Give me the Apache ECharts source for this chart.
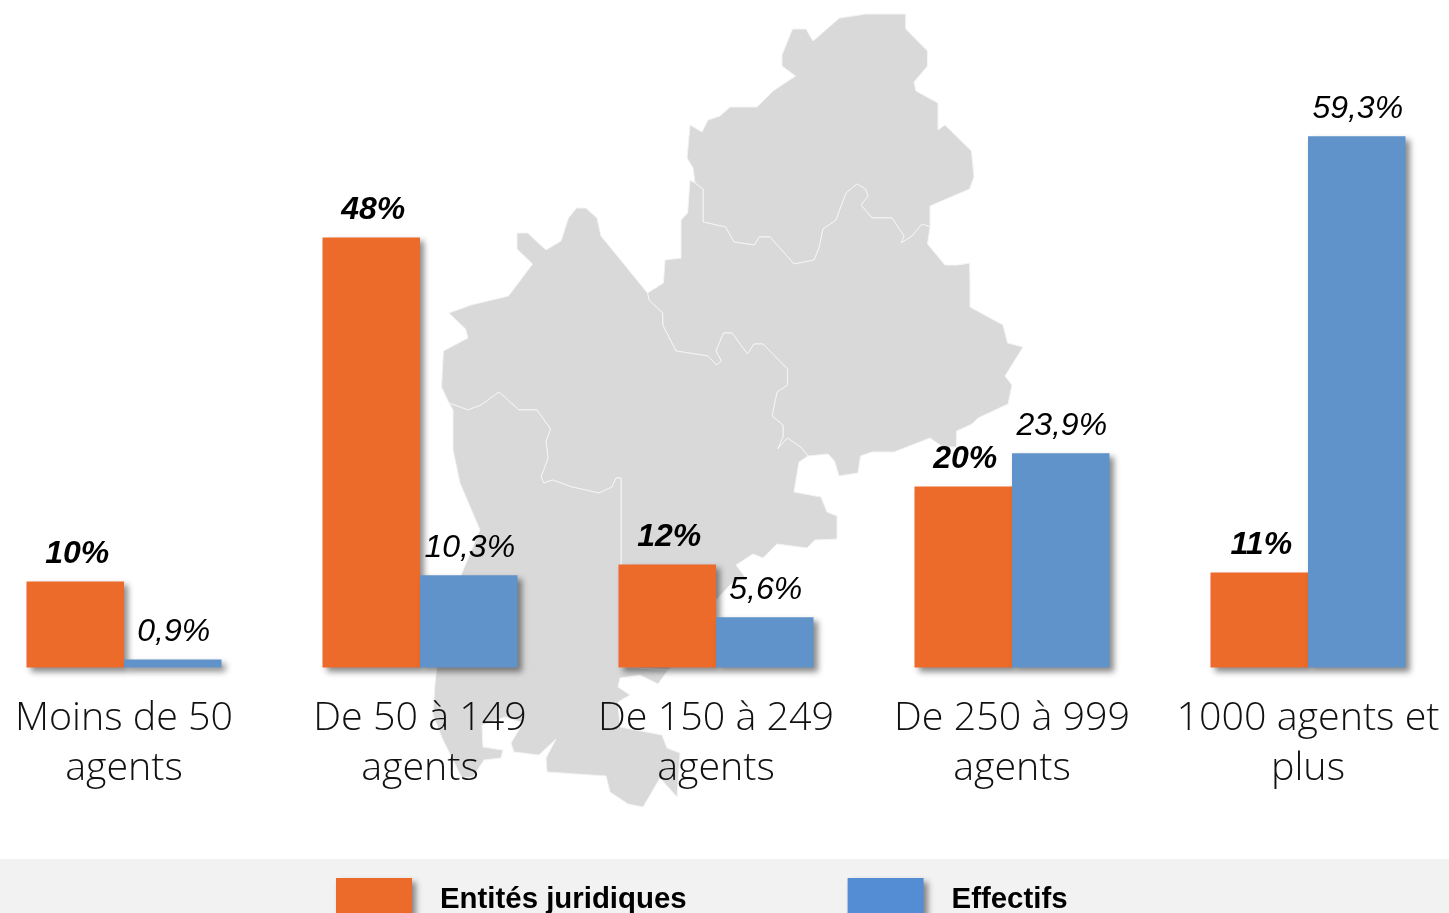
<!DOCTYPE html>
<html>
<head>
<meta charset="utf-8">
<style>html,body{margin:0;padding:0;background:#fff;overflow:hidden}#c{width:1449px;height:913px}</style>
<script src="https://cdn.jsdelivr.net/npm/echarts@6/dist/echarts.min.js"></script>
</head>
<body>
<div id="c"></div>
<script>
const categories = ['Moins de 50\nagents','De 50 à 149\nagents','De 150 à 249\nagents','De 250 à 999\nagents','1000 agents et\nplus'];
const seriesNames = ['Entités juridiques','Effectifs'];
const entites = [9.6,48,11.5,20.2,10.6];
const entitesLabels = ['10%','48%','12%','20%','11%'];
const effectifs = [0.9,10.3,5.6,23.9,59.3];
const effectifsLabels = ['0,9%','10,3%','5,6%','23,9%','59,3%'];

// Decorative background map (not data)
const borderNE = [[930,227],[922,224],[912,236],[901,243],[904,236],[892,218],[872,218],[861,205],[868,196],[865.5,189],[857,184],[846,193],[836,220],[823,229],[819,248],[814,260],[794,264],[770,237],[759,237],[754.5,245],[734,242],[725.5,227],[703,222],[703,189],[695,183]];
const borderEW = [[808,456],[800.5,447],[787.5,438],[777.5,449],[783,437],[783,425],[772,416],[777,392],[787.5,385],[787.5,369],[763,344],[754,344],[747.5,354],[732,333],[723.5,333],[716,351],[721.5,361],[716.5,365],[708,356],[676,351],[662.7,325],[662.7,313],[649,300],[647.5,293]];
const borderWS = [[449,403],[468,410],[481,405],[499,392],[519,410],[537,410],[550.5,429],[546,441],[548,458],[541,477],[543.7,483],[552.5,480],[572,487],[599,493],[612,487],[616,478],[621,478],[621,667]];
const outlineN = [[687,158],[690,125],[702,132],[708,120],[720,116],[730,107],[757,107],[773,91],[795.5,76],[782,66],[782,55],[792.5,29],[806,29],[813,41],[839.5,18],[866,14],[905.7,14],[905.7,29],[927.5,51],[927.5,66],[914,82],[916,91],[938,103],[938,130],[945,125],[971.5,151],[974,177],[969.6,189],[930,206]];
const outlineNtail = [[693,168]];
const outlineE = [[927.5,244],[945,265],[958,265],[969.6,263],[970,283],[970,307],[1003,325],[1007.5,343],[1023,347],[1005,376],[1012,385],[1008,404],[978,418],[972,424],[956.6,431],[956.6,447],[943,447],[930,438],[894,452],[872,452],[860.5,456],[858,473],[839,476],[834.5,461],[828,454]];
const outlineEtail = [[663.4,283],[665,260],[681,258],[681,220],[687.6,213],[690,180]];
const outlineWnorth = [[441.5,387],[443.4,351],[468,338],[465.6,329],[449,313],[471,305],[508.5,296],[532.6,264],[517,249],[517,233],[527.6,233],[546,250],[561,241],[568.5,218],[576.6,208],[585.8,208],[597,218],[601,236]];
const outlineWeast = [[799,462],[794,492],[821,497],[827,512],[837,516],[837,539],[815,540],[807,548],[777,544],[763,558],[753,554],[736,565],[745,577],[730,585],[716,600],[690,650],[668,670]];
const outlineS = [[668,670],[658,684],[640,675],[620,678],[618,687],[630,695],[618,702],[620,727],[662,735],[667,748],[680,753],[677,797],[660,778],[653,790],[643,807],[628,804],[610,792],[606,776],[547,772],[546,758],[556,739],[539,755],[514,752],[511,743],[523,723],[505,717],[482,725],[483,747],[503,750],[501,758],[484,760],[473,777],[462,778],[453,760],[443,740],[433,715],[435,683],[437,667],[462,573],[480,530],[460,483],[453,450],[453,410]];

const rev = a => a.slice().reverse();
const regions = [
  [...outlineN, ...borderNE, ...outlineNtail],
  [...rev(borderNE), ...outlineE, ...borderEW, ...outlineEtail],
  [...rev(borderEW), ...outlineWeast, [621,667], ...rev(borderWS), ...outlineWnorth],
  [...borderWS, ...outlineS]
];

const ORANGE = '#ED6B2A', BLUE = '#6093C9', LEGEND_BLUE = '#558DD5';
const shadow = {shadowColor:'rgba(0,0,0,0.45)',shadowBlur:6,shadowOffsetX:4,shadowOffsetY:4};

const labelFmt = arr => p => arr[p.dataIndex];
const chart = echarts.init(document.getElementById('c'),null,{renderer:'canvas'});
chart.setOption({
  animation:false,
  backgroundColor:'#fff',
  graphic:[
    ...regions.map(pts=>({type:'polygon',silent:true,z:0,shape:{points:pts},style:{fill:'#D9D9D9',stroke:'#F4F4F4',lineWidth:1}})),
    {type:'rect',silent:true,z:0,shape:{x:0,y:859,width:1449,height:54},style:{fill:'#F2F2F2'}}
  ],
  legend:{
    left:336,top:878,padding:0,orient:'horizontal',selectedMode:false,
    itemWidth:76,itemHeight:44,itemGap:161,
    icon:'rect',
    textStyle:{fontFamily:'Liberation Sans',fontWeight:'bold',fontSize:29.4,color:'#000',padding:[0,0,0,23]},
    data:[
      {name:seriesNames[0],itemStyle:{color:ORANGE,...shadow}},
      {name:seriesNames[1],itemStyle:{color:LEGEND_BLUE,...shadow}}
    ]
  },
  grid:{left:-24,right:-7,top:129.9,bottom:245.5,containLabel:false,outerBoundsMode:'none'},
  xAxis:{
    type:'category',data:categories,
    axisLine:{show:false},axisTick:{show:false},
    axisLabel:{interval:0,margin:26,fontFamily:'Open Sans',fontWeight:300,fontSize:39.4,lineHeight:50,color:'#111'}
  },
  yAxis:{type:'value',min:0,max:60,show:false,splitLine:{show:false}},
  series:[
    {name:seriesNames[0],type:'bar',data:entites,barWidth:97.5,barGap:0,clip:false,silent:true,
     itemStyle:{color:ORANGE,...shadow},
     label:{show:true,position:'top',distance:11,formatter:labelFmt(entitesLabels),fontFamily:'Liberation Sans',fontStyle:'italic',fontWeight:'bold',fontSize:32,color:'#000',offset:[2,0]}},
    {name:seriesNames[1],type:'bar',data:effectifs,barWidth:97.5,barGap:0,clip:false,silent:true,
     itemStyle:{color:BLUE,...shadow},
     label:{show:true,position:'top',distance:11,formatter:labelFmt(effectifsLabels),fontFamily:'Liberation Sans',fontStyle:'italic',fontSize:32,color:'#000',offset:[1,0]}}
  ]
});
</script>
</body>
</html>
